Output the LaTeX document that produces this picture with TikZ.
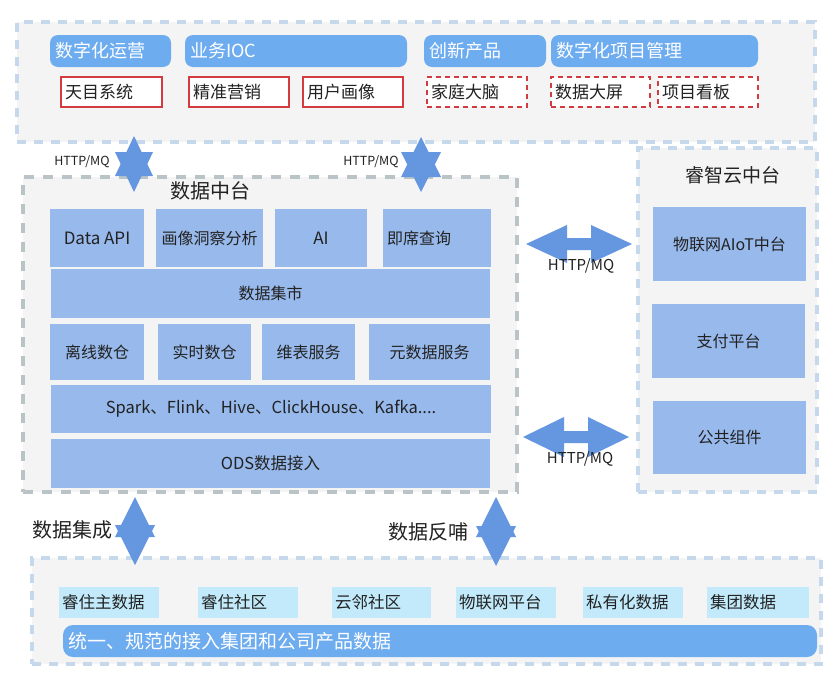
\documentclass[tikz,border=0pt]{standalone}
\usepackage{fontspec}
\setmainfont{Noto Sans CJK SC}
\definecolor{panel}{HTML}{F4F4F4}
\definecolor{blueline}{HTML}{C5D8EC}
\definecolor{grayline}{HTML}{BAC4C7}
\definecolor{hdrblue}{HTML}{6EACF0}
\definecolor{inblue}{HTML}{97B9EB}
\definecolor{arrc}{HTML}{6596E0}
\definecolor{redc}{HTML}{D23C41}
\definecolor{cyanc}{HTML}{C2EAFA}
\definecolor{txt}{HTML}{222222}
\newcommand\vdarr[5]{%
  \fill[arrc] (#1,-#2) -- (#1+#4,-#2-#5) -- (#1-#4,-#2-#5) -- cycle;
  \fill[arrc] (#1,-#3) -- (#1+#4,-#3+#5) -- (#1-#4,-#3+#5) -- cycle;}
\newcommand\hdarr[6]{%
  \fill[arrc] (#1,-#3) -- (#1+#5,-#3+#4) -- (#1+#5,-#3+#6) -- (#2-#5,-#3+#6) -- (#2-#5,-#3+#4)
   -- (#2,-#3) -- (#2-#5,-#3-#4) -- (#2-#5,-#3-#6) -- (#1+#5,-#3-#6) -- (#1+#5,-#3-#4) -- cycle;}
\begin{document}
\begin{tikzpicture}[x=1pt,y=1pt,
  every node/.style={inner sep=0pt, outer sep=0pt},
  cont/.style={draw=#1, line width=4pt, dash pattern=on 9pt off 8pt, fill=panel, anchor=north west},
  hdr/.style={fill=hdrblue, rounded corners=8pt, anchor=north west, text=white, font=\fontsize{18}{20}\selectfont, inner xsep=5pt, align=left},
  sub/.style={draw=redc, line width=2pt, fill=white, anchor=north west, font=\fontsize{17}{19}\selectfont, text=txt, inner xsep=4pt, align=left},
  subd/.style={sub, dash pattern=on 5pt off 4pt},
  inb/.style={fill=inblue, anchor=north west, font=\fontsize{16}{18}\selectfont, text=txt},
  cyb/.style={fill=cyanc, anchor=north west, font=\fontsize{16.5}{18}\selectfont, text=txt, inner xsep=3pt, align=left},
  lbl/.style={font=\fontsize{12.5}{14}\selectfont, text=txt}
]
\useasboundingbox (0,0) rectangle (834,-675);
\fill[white] (0,0) rectangle (834,-675);

% containers
\node[cont=blueline, minimum width=798pt, minimum height=120pt] (topc) at (17,-22) {};
\node[cont=grayline, dash pattern=on 10pt off 9pt, minimum width=494pt, minimum height=315pt] (dc) at (23,-177) {};
\node[cont=blueline, minimum width=179pt, minimum height=344pt] (rc) at (638,-148) {};
\node[cont=blueline, minimum width=789pt, minimum height=106pt] (bc) at (32,-558) {};

% top headers
\node[hdr, minimum height=32pt, text width=111pt] (h1) at (50,-35) {数字化运营};
\node[hdr, minimum height=32pt, text width=212pt] (h2) at (185,-35) {业务IOC};
\node[hdr, minimum height=32pt, text width=112pt] (h3) at (424,-35) {创新产品};
\node[hdr, minimum height=32pt, text width=197pt] (h4) at (551,-35) {数字化项目管理};

% top sub boxes
\node[sub, minimum height=30pt, text width=93pt] (s1) at (61,-77) {天目系统};
\node[sub, minimum height=30pt, text width=92pt] (s2) at (189,-77) {精准营销};
\node[sub, minimum height=30pt, text width=92pt] (s3) at (303,-77) {用户画像};
\node[subd, minimum height=30pt, text width=92pt] (s4) at (427,-77) {家庭大脑};
\node[subd, minimum height=30pt, text width=91pt] (s5) at (551,-77) {数据大屏};
\node[subd, minimum height=30pt, text width=92pt] (s6) at (658,-77) {项目看板};

% data center
\node[font=\fontsize{20}{22}\selectfont, text=txt] (dct) at (210,-191) {数据中台};
\node[inb, font=\fontsize{17}{19}\selectfont, minimum width=94pt, minimum height=58pt] (d1) at (50,-209) {Data API};
\node[inb, minimum width=107pt, minimum height=58pt] (d2) at (156,-209) {画像洞察分析};
\node[inb, font=\fontsize{17}{19}\selectfont, minimum width=92pt, minimum height=58pt] (d3) at (275,-209) {AI};
\node[inb, inner xsep=4pt, align=left, text width=100pt, minimum height=58pt] (d4) at (383,-209) {即席查询};
\node[inb, minimum width=439pt, minimum height=49pt] (d5) at (51,-269) {数据集市};
\node[inb, minimum width=94pt, minimum height=56pt] (d6) at (50,-324) {离线数仓};
\node[inb, minimum width=93pt, minimum height=56pt] (d7) at (158,-324) {实时数仓};
\node[inb, minimum width=93pt, minimum height=56pt] (d8) at (262,-324) {维表服务};
\node[inb, minimum width=121pt, minimum height=56pt] (d9) at (369,-324) {元数据服务};
\node[inb, font=\fontsize{16.5}{18}\selectfont, minimum width=440pt, minimum height=48pt] (d10) at (51,-385) {Spark、Flink、Hive、ClickHouse、Kafka....};
\node[inb, font=\fontsize{16.5}{18}\selectfont, minimum width=439pt, minimum height=49pt] (d11) at (51,-439) {ODS数据接入};

% right platform
\node[font=\fontsize{19}{21}\selectfont, text=txt] (rct) at (733,-175) {睿智云中台};
\node[inb, minimum width=153pt, minimum height=74pt] (r1) at (653,-207) {物联网AIoT中台};
\node[inb, minimum width=153pt, minimum height=74pt] (r2) at (652,-304) {支付平台};
\node[inb, minimum width=153pt, minimum height=73pt] (r3) at (653,-401) {公共组件};

% bottom sources
\node[cyb, minimum height=31pt, text width=94pt] (b1) at (59,-587) {睿住主数据};
\node[cyb, minimum height=31pt, text width=94pt] (b2) at (198,-587) {睿住社区};
\node[cyb, minimum height=31pt, text width=93pt] (b3) at (332,-587) {云邻社区};
\node[cyb, minimum height=31pt, text width=94pt] (b4) at (456,-587) {物联网平台};
\node[cyb, minimum height=31pt, text width=94pt] (b5) at (583,-587) {私有化数据};
\node[cyb, minimum height=31pt, text width=96pt] (b6) at (707,-587) {集团数据};
\node[hdr, rounded corners=10pt, font=\fontsize{19}{21}\selectfont, minimum height=32pt, text width=744pt] (bar) at (63,-625) {统一、规范的接入集团和公司产品数据};

% arrows
\vdarr{134}{136}{192}{19}{40}
\vdarr{421}{137}{192}{20}{40}
\vdarr{135}{497}{565}{20}{40}
\vdarr{496}{497}{566}{20}{40}
\hdarr{526}{632}{244}{19}{41}{6}
\hdarr{523}{629}{437}{20}{41}{6}

% labels
\node[lbl] (l1) at (82,-162) {HTTP/MQ};
\node[lbl] (l2) at (371,-162) {HTTP/MQ};
\node[lbl, font=\fontsize{15}{17}\selectfont] (l3) at (581,-266) {HTTP/MQ};
\node[lbl, font=\fontsize{15}{17}\selectfont] (l4) at (580,-459) {HTTP/MQ};
\node[font=\fontsize{20}{22}\selectfont, text=txt] (l5) at (72,-530) {数据集成};
\node[font=\fontsize{20}{22}\selectfont, text=txt] (l6) at (428,-532) {数据反哺};
\end{tikzpicture}
\end{document}
